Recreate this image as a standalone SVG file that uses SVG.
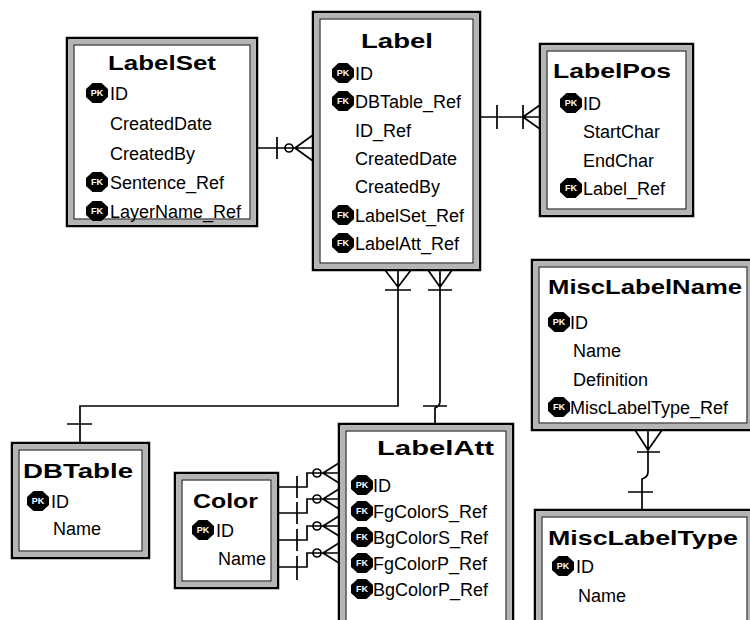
<svg xmlns="http://www.w3.org/2000/svg" width="750" height="620" viewBox="0 0 750 620">
<style>
.bo{fill:#fff;stroke:#000;stroke-width:2.5}
.bb{fill:none;stroke:#b4b4b4;stroke-width:5}
.bi{fill:none;stroke:#000;stroke-width:1}
.t{font-family:"Liberation Sans",Arial,sans-serif;font-weight:bold;font-size:21px;fill:#000}
.f{font-family:"Liberation Sans",Arial,sans-serif;font-size:18px;fill:#000}
.k{fill:#000}
.kt{font-family:"Liberation Sans",Arial,sans-serif;font-weight:bold;font-size:9px;fill:#fff;text-anchor:middle}
.c{fill:none;stroke:#000;stroke-width:1.7}
</style>
<defs>
<polygon id="oct" points="-4.5,-10 4.5,-10 11,-4 11,4 4.5,10 -4.5,10 -11,4 -11,-4"/>
</defs>
<rect width="750" height="620" fill="#fff"/>

<g id="connectors">
<path class="c" d="M257,148 H313 M277,137 V159 M295,148 L313,135 M295,148 L313,161"/>
<circle class="c" cx="289" cy="148" r="4"/>
<path class="c" d="M480,117 H540 M497,105 V129 M523,105 V129 M523,117 L540,105 M523,117 L540,129"/>
<path class="c" d="M398,270 V406 H80 V443 M398,287 L385,270 M398,287 L411,270 M385,290 H411 M67,424 H92"/>
<path class="c" d="M440,270 V401 Q440,406 435,408 V424 M440,287 L428,270 M440,287 L452,270 M428,290 H452 M423,406 H447"/>
<path class="c" d="M648,430 V472 Q648,477 642,479 V510 M648,450 L635,430 M648,450 L662,430 M637,452 H660 M628,492 H653"/>
<path class="c" d="M278,487 H307 V473 H339 M297,476 V498 M323,473 L339,463 M323,473 L339,483"/>
<circle class="c" cx="317" cy="473" r="4"/>
<path class="c" d="M278,513 H307 V499 H339 M297,502 V524 M323,499 L339,489 M323,499 L339,509"/>
<circle class="c" cx="317" cy="499" r="4"/>
<path class="c" d="M278,540 H307 V526 H339 M297,529 V551 M323,526 L339,516 M323,526 L339,536"/>
<circle class="c" cx="317" cy="526" r="4"/>
<path class="c" d="M278,567 H307 V553 H339 M297,556 V580 M323,553 L339,543 M323,553 L339,563"/>
<circle class="c" cx="317" cy="553" r="4"/>
</g>

<g id="LabelSet">
<rect class="bo" x="67" y="38" width="190" height="188"/>
<rect class="bb" x="71" y="42" width="182" height="180"/>
<rect class="bi" x="74" y="45" width="176" height="174"/>
<text class="t" x="108" y="70" textLength="108" lengthAdjust="spacingAndGlyphs">LabelSet</text>
<g transform="translate(97,93)"><use href="#oct" class="k"/><text class="kt" y="3.2">PK</text></g>
<text class="f" x="110" y="100">ID</text>
<text class="f" x="110" y="130">CreatedDate</text>
<text class="f" x="110" y="160">CreatedBy</text>
<g transform="translate(97,182)"><use href="#oct" class="k"/><text class="kt" y="3.2">FK</text></g>
<text class="f" x="110" y="189">Sentence_Ref</text>
<g transform="translate(97,211)"><use href="#oct" class="k"/><text class="kt" y="3.2">FK</text></g>
<text class="f" x="110" y="218">LayerName_Ref</text>
</g>

<g id="Label">
<rect class="bo" x="313" y="12" width="167" height="258"/>
<rect class="bb" x="317" y="16" width="159" height="250"/>
<rect class="bi" x="320" y="19" width="153" height="244"/>
<text class="t" x="361" y="48" textLength="72" lengthAdjust="spacingAndGlyphs">Label</text>
<g transform="translate(343,73)"><use href="#oct" class="k"/><text class="kt" y="3.2">PK</text></g>
<text class="f" x="355" y="80">ID</text>
<g transform="translate(343,101)"><use href="#oct" class="k"/><text class="kt" y="3.2">FK</text></g>
<text class="f" x="355" y="108">DBTable_Ref</text>
<text class="f" x="355" y="137">ID_Ref</text>
<text class="f" x="355" y="165">CreatedDate</text>
<text class="f" x="355" y="193">CreatedBy</text>
<g transform="translate(343,215)"><use href="#oct" class="k"/><text class="kt" y="3.2">FK</text></g>
<text class="f" x="355" y="222">LabelSet_Ref</text>
<g transform="translate(343,243)"><use href="#oct" class="k"/><text class="kt" y="3.2">FK</text></g>
<text class="f" x="355" y="250">LabelAtt_Ref</text>
</g>

<g id="LabelPos">
<rect class="bo" x="540" y="44" width="153" height="172"/>
<rect class="bb" x="544" y="48" width="145" height="164"/>
<rect class="bi" x="547" y="51" width="139" height="158"/>
<text class="t" x="553" y="78" textLength="118" lengthAdjust="spacingAndGlyphs">LabelPos</text>
<g transform="translate(571,103)"><use href="#oct" class="k"/><text class="kt" y="3.2">PK</text></g>
<text class="f" x="583" y="110">ID</text>
<text class="f" x="583" y="138">StartChar</text>
<text class="f" x="583" y="167">EndChar</text>
<g transform="translate(571,188)"><use href="#oct" class="k"/><text class="kt" y="3.2">FK</text></g>
<text class="f" x="583" y="195">Label_Ref</text>
</g>

<g id="MiscLabelName">
<rect class="bo" x="532" y="260" width="222" height="170"/>
<rect class="bb" x="536" y="264" width="214" height="162"/>
<rect class="bi" x="539" y="267" width="208" height="156"/>
<text class="t" x="548" y="294" textLength="194" lengthAdjust="spacingAndGlyphs">MiscLabelName</text>
<g transform="translate(559,322)"><use href="#oct" class="k"/><text class="kt" y="3.2">PK</text></g>
<text class="f" x="570" y="329">ID</text>
<text class="f" x="573" y="357">Name</text>
<text class="f" x="573" y="386">Definition</text>
<g transform="translate(559,407)"><use href="#oct" class="k"/><text class="kt" y="3.2">FK</text></g>
<text class="f" x="570" y="414">MiscLabelType_Ref</text>
</g>

<g id="DBTable">
<rect class="bo" x="12" y="443" width="137" height="115"/>
<rect class="bb" x="16" y="447" width="129" height="107"/>
<rect class="bi" x="19" y="450" width="123" height="101"/>
<text class="t" x="23" y="478" textLength="110" lengthAdjust="spacingAndGlyphs">DBTable</text>
<g transform="translate(38,501)"><use href="#oct" class="k"/><text class="kt" y="3.2">PK</text></g>
<text class="f" x="51" y="508">ID</text>
<text class="f" x="53" y="535">Name</text>
</g>

<g id="Color">
<rect class="bo" x="175" y="473" width="103" height="115"/>
<rect class="bb" x="179" y="477" width="95" height="107"/>
<rect class="bi" x="182" y="480" width="89" height="101"/>
<text class="t" x="193" y="508" textLength="65" lengthAdjust="spacingAndGlyphs">Color</text>
<g transform="translate(203,530)"><use href="#oct" class="k"/><text class="kt" y="3.2">PK</text></g>
<text class="f" x="216" y="537">ID</text>
<text class="f" x="218" y="565">Name</text>
</g>

<g id="LabelAtt">
<rect class="bo" x="339" y="424" width="174" height="210"/>
<rect class="bb" x="343" y="428" width="166" height="202"/>
<rect class="bi" x="346" y="431" width="160" height="196"/>
<text class="t" x="377" y="455" textLength="117" lengthAdjust="spacingAndGlyphs">LabelAtt</text>
<g transform="translate(362,485)"><use href="#oct" class="k"/><text class="kt" y="3.2">PK</text></g>
<text class="f" x="373" y="492">ID</text>
<g transform="translate(362,511)"><use href="#oct" class="k"/><text class="kt" y="3.2">FK</text></g>
<text class="f" x="373" y="518">FgColorS_Ref</text>
<g transform="translate(362,537)"><use href="#oct" class="k"/><text class="kt" y="3.2">FK</text></g>
<text class="f" x="373" y="544">BgColorS_Ref</text>
<g transform="translate(362,563)"><use href="#oct" class="k"/><text class="kt" y="3.2">FK</text></g>
<text class="f" x="373" y="570">FgColorP_Ref</text>
<g transform="translate(362,589)"><use href="#oct" class="k"/><text class="kt" y="3.2">FK</text></g>
<text class="f" x="373" y="596">BgColorP_Ref</text>
</g>

<g id="MiscLabelType">
<rect class="bo" x="535" y="510" width="219" height="124"/>
<rect class="bb" x="539" y="514" width="211" height="116"/>
<rect class="bi" x="542" y="517" width="205" height="110"/>
<text class="t" x="548" y="545" textLength="190" lengthAdjust="spacingAndGlyphs">MiscLabelType</text>
<g transform="translate(563,566)"><use href="#oct" class="k"/><text class="kt" y="3.2">PK</text></g>
<text class="f" x="576" y="573">ID</text>
<text class="f" x="578" y="602">Name</text>
</g>
</svg>
